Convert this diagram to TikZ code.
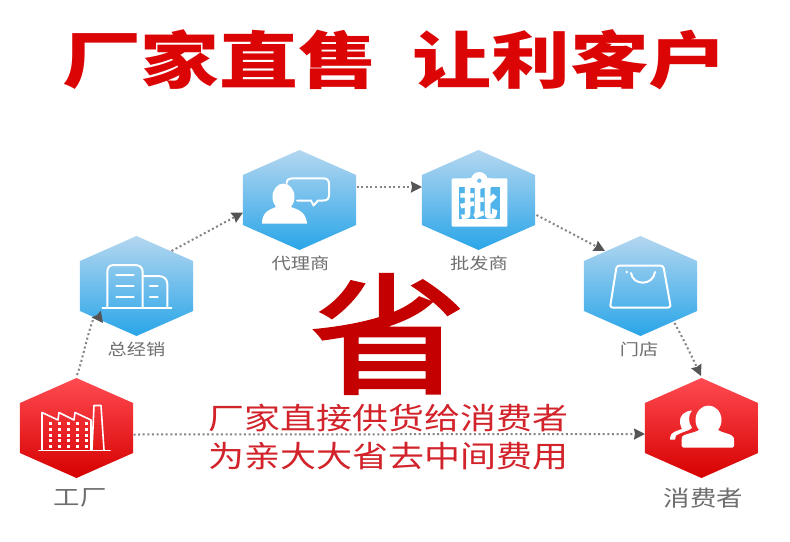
\documentclass[tikz,border=0pt]{standalone}
\usepackage{fontspec}
\usetikzlibrary{shapes.geometric,calc,arrows.meta}
\newfontfamily\cjk{Noto Sans CJK SC}
\newfontfamily\cjkfat[FakeBold=2.2]{Noto Sans CJK SC}
\definecolor{bluetop}{HTML}{B4D7F0}
\definecolor{bluebot}{HTML}{29A5E8}
\definecolor{redtop}{HTML}{FF4B52}
\definecolor{redbot}{HTML}{D60000}
\definecolor{titlered}{HTML}{DC0505}
\definecolor{bigred}{HTML}{C40000}
\definecolor{midred}{HTML}{D2222A}
\definecolor{lblgray}{HTML}{6E6E6E}
\definecolor{dotgray}{HTML}{858585}
\definecolor{tipgray}{HTML}{555555}
\tikzset{
  hexbase/.style={regular polygon,regular polygon sides=6,shape border rotate=30,minimum size=100pt,inner sep=0pt,outer sep=0pt,xscale=1.305,transform shape,shading angle=0},
  bluehex/.style={hexbase,top color=bluetop,bottom color=bluebot},
  redhex/.style={hexbase,top color=redtop,bottom color=redbot},
  stretched/.style={xscale=1.2,transform shape,inner sep=0pt,outer sep=0pt},
  smalllabel/.style={stretched,text=lblgray,font=\cjk\fontsize{16pt}{16pt}\selectfont},
  biglabel/.style={stretched,text=lblgray,font=\cjk\fontsize{22pt}{22pt}\selectfont},
  midtext/.style={stretched,text=midred,font=\cjk\fontsize{30pt}{30pt}\selectfont},
  flow/.style={draw=dotgray,line width=2pt,dash pattern=on 2pt off 2.6pt,-{Stealth[length=11pt,width=11pt,color=tipgray,inset=1pt]}},
  iconline/.style={draw=white,line width=2pt,line join=round,line cap=round},
  iconfill/.style={fill=white,draw=none},
}
\begin{document}
\begin{tikzpicture}[x=1pt,y=-1pt]
\useasboundingbox (0,0) rectangle (790,541);
\fill[white] (0,0) rectangle (790,541);

% title
\node[inner sep=0pt,outer sep=0pt,xscale=1.27,transform shape,text=titlered,font=\cjk\bfseries\fontsize{62pt}{62pt}\selectfont] (title) at (395,60) {厂家直售\hspace{28pt}让利客户};

% hexagons
\node[redhex]  (fac) at (76.5,428) {};
\node[bluehex] (zjx) at (136.5,286) {};
\node[bluehex] (dls) at (299.5,200) {};
\node[bluehex] (pfs) at (478.5,200) {};
\node[bluehex] (mdn) at (640.5,286) {};
\node[redhex]  (xfz) at (701.5,428) {};

% labels
\node[biglabel]   (lfac) at (80,498) {工厂};
\node[smalllabel] (lzjx) at (136.5,349) {总经销};
\node[smalllabel] (ldls) at (300.5,263) {代理商};
\node[smalllabel] (lpfs) at (479,263) {批发商};
\node[smalllabel] (lmdn) at (639,349) {门店};
\node[biglabel]   (lxfz) at (703.5,498) {消费者};

% connectors
\draw[flow] ($(fac)+(0.5,-53)$) .. controls ($(fac)+(6,-66)$) and ($(zjx)+(-44,23)$) .. ($(zjx)+(-33.5,37)$);
\draw[flow] ($(zjx)+(35,-35)$) -- ($(dls)+(-56.5,12.5)$);
\draw[flow] ($(dls)+(57,-13)$) -- ($(pfs)+(-56.5,-13)$);
\draw[flow] ($(pfs)+(58,15)$) -- ($(mdn)+(-35.5,-35)$);
\draw[flow] ($(mdn)+(34,37)$) .. controls ($(mdn)+(44,55)$) and ($(xfz)+(-8,-68)$) .. ($(xfz)+(-0.5,-52)$);
\draw[flow] ($(fac)+(57,6.5)$) -- ($(xfz)+(-56.5,6)$);

% centre text
\node[stretched,text=bigred,font=\cjkfat\fontsize{130pt}{130pt}\selectfont] (sheng) at (388,334) {省};
\node[midtext] (line1) at (388.5,418) {厂家直接供货给消费者};
\node[midtext] (line2) at (388.5,456) {为亲大大省去中间费用};

% factory icon
\draw[iconline,line width=1.6pt] (39,450.5) -- (110,450.5);
\draw[iconline,line width=1.6pt] (42,450) -- (42,412.5) -- (58,420) -- (59,412.5) -- (74,420) -- (75,412.5) -- (91,420) -- (91,450);
\draw[iconline,line width=1.6pt] (92,450) -- (94,405.5) -- (101,405.5) -- (104,450);
\foreach \yy in {423,429,435,440.5,446}
  \foreach \xx in {50,59,68,77,86}
    \fill[white] (\xx-1.5,\yy-1.5) rectangle (\xx+1.5,\yy+1.5);

% buildings icon
\draw[iconline] (102.5,308.3) -- (171.5,308.3);
\draw[iconline] (107.3,308) -- (107.3,272) .. controls (107.3,267) and (110,265) .. (114,265) -- (135,265) .. controls (140,265) and (142.7,268) .. (142.7,272) -- (142.7,308);
\draw[iconline] (142.7,276) -- (158,276) .. controls (164,276) and (167.3,279) .. (167.3,284) -- (167.3,308);
\foreach \yy in {275,286,297} \draw[iconline,line width=2.6pt] (116.5,\yy) -- (133.5,\yy);
\foreach \yy in {286,297} \draw[iconline,line width=2.6pt] (150,\yy) -- (157.5,\yy);

% agent icon
\fill[iconfill] (283.5,197) ellipse (11 and 13.5);
\fill[iconfill] (262,223.5) .. controls (262,213) and (268,210) .. (276,207) -- (291,207) .. controls (300,210) and (306,213) .. (307,223.5) -- cycle;
\draw[iconline] (286.7,183) .. controls (287,179.5) and (289,178.3) .. (292,178.3) -- (323,178.3) .. controls (327,178.3) and (329,180) .. (329,184) -- (329,195) .. controls (329,199) and (327,200.5) .. (323,200.5) -- (318,200.5) -- (313.5,205.5) -- (311,200.5) -- (297,200.5);

% wholesale icon
\fill[white,rounded corners=1pt] (451.7,178.3) rectangle (507.3,226.7);
\fill[bluebot!72!bluetop] (459.3,186.7) rectangle (500,219.3);
\fill[white] (468,178.3) rectangle (490.5,188);
\fill[white] (479.3,180.5) circle (8.5);
\fill[bluebot!45!bluetop] (479.3,180.7) circle (2.2);
\node[inner sep=0pt,outer sep=0pt,xscale=1.15,transform shape,text=white,font=\cjk\bfseries\fontsize{34pt}{34pt}\selectfont] (pi) at (479.5,203.5) {批};

% bag icon
\draw[iconline,rounded corners=2.5pt] (616.7,265.7) -- (663.3,265.7) -- (670.8,307.5) -- (610,307.5) -- cycle;
\fill[white] (626.7,272) circle (1.3);
\draw[iconline] (631,273) .. controls (633,286) and (653,286) .. (655,272);

% consumer icon
\fill[iconfill] (708.5,420) ellipse (13 and 14.5);
\fill[iconfill,rounded corners=1.5pt] (681.7,447.5) -- (681.7,439) .. controls (682,434) and (695,433) .. (700,429) -- (717,429) .. controls (722,433) and (733,434) .. (734,439) -- (734,447.5) -- cycle;
\fill[iconfill] (692,410.5) .. controls (684,411) and (679,416) .. (680,423) .. controls (680,426) and (682,428) .. (682,429) .. controls (677,431) and (670,432) .. (670,438) -- (670,439.5) -- (675,439.5) -- (676,435.5) .. controls (681,432) and (689,431) .. (692,428) .. controls (688,422) and (688,415) .. (692,410.5) -- cycle;
\end{tikzpicture}
\end{document}
